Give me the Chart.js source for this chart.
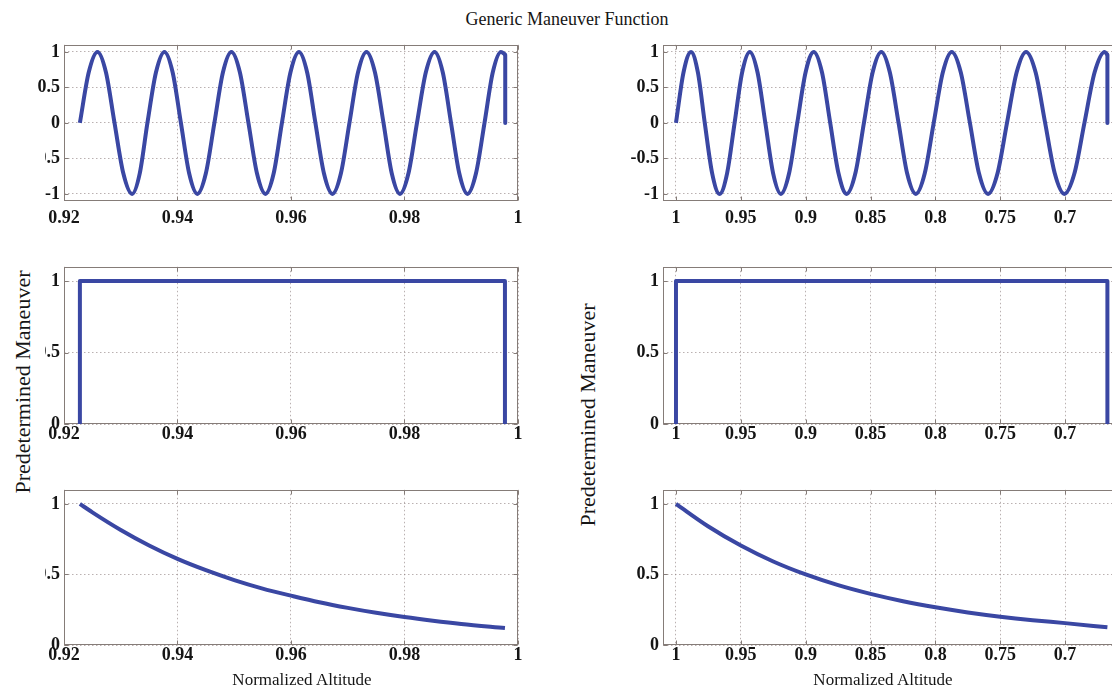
<!DOCTYPE html>
<html>
<head>
<meta charset="utf-8">
<script src="https://cdn.jsdelivr.net/npm/chart.js@4/dist/chart.umd.min.js"></script>
<style>
  html, body { margin: 0; padding: 0; background: #fff; }
  body { width: 1112px; height: 687px; position: relative; overflow: hidden;
         font-family: "Liberation Serif", "Times New Roman", serif; color: #151515; }
  canvas { position: absolute; z-index: 1; }
  .txt { position: absolute; white-space: nowrap; line-height: 1; z-index: 3; }
  .ylab { transform: translate(-50%, -50%) rotate(-90deg); }
  .xlab { transform: translateX(-50%); }
  #mask { position: absolute; left: 0; top: 100px; width: 45px; height: 490px; background: #fff; z-index: 2; }
</style>
</head>
<body>

<div class="txt xlab" style="left:567px; top:10px; font-size:18px;">Generic Maneuver Function</div>
<div id="mask"></div>
<div class="txt ylab" style="left:23px; top:382px; font-size:22px;">Predetermined Maneuver</div>
<div class="txt ylab" style="left:588px; top:415px; font-size:22px;">Predetermined Maneuver</div>
<div class="txt xlab" style="left:302px; top:671px; font-size:17px;">Normalized Altitude</div>
<div class="txt xlab" style="left:883px; top:671px; font-size:17px;">Normalized Altitude</div>

<script>
// -------------------- DATA --------------------
const leftTicksX = [0.92, 0.94, 0.96, 0.98, 1];
const rightTicksX = [1, 0.95, 0.9, 0.85, 0.8, 0.75, 0.7];
const waveTicksY = [-1, -0.5, 0, 0.5, 1];
const unitTicksY = [0, 0.5, 1];

// oscillation level, every eighth of a cycle (same shape in both columns)
const waveY = [
  0, 0.71, 1, 0.71, 0, -0.71, -1, -0.71,
  0, 0.71, 1, 0.71, 0, -0.71, -1, -0.71,
  0, 0.71, 1, 0.71, 0, -0.71, -1, -0.71,
  0, 0.71, 1, 0.71, 0, -0.71, -1, -0.71,
  0, 0.71, 1, 0.71, 0, -0.71, -1, -0.71,
  0, 0.71, 1, 0.71, 0, -0.71, -1, -0.71,
  0, 0.71, 1, 0.96
];
const waveLeftX = [
  0.9228, 0.92435, 0.9259, 0.9274, 0.9289, 0.93045, 0.9320, 0.93335,
  0.9347, 0.9362, 0.9377, 0.93915, 0.9406, 0.94205, 0.9435, 0.9450,
  0.9465, 0.9480, 0.9495, 0.9510, 0.9525, 0.9540, 0.9555, 0.95695,
  0.9584, 0.9599, 0.9614, 0.96285, 0.9643, 0.9658, 0.9673, 0.9688,
  0.9703, 0.9718, 0.9733, 0.9748, 0.9763, 0.97775, 0.9792, 0.9807,
  0.9822, 0.98375, 0.9853, 0.98675, 0.9882, 0.98965, 0.9911, 0.9926,
  0.9941, 0.99555, 0.9970, 0.99775
];
const waveRightX = [
  1.0000, 0.9942, 0.9884, 0.9831, 0.9778, 0.9721, 0.9664, 0.9606,
  0.9548, 0.9490, 0.9431, 0.9371, 0.9311, 0.9251, 0.9191, 0.9128,
  0.9065, 0.9001, 0.8938, 0.8874, 0.8811, 0.8747, 0.8684, 0.8617,
  0.8551, 0.8484, 0.8417, 0.8351, 0.8284, 0.8218, 0.8151, 0.8082,
  0.8013, 0.7943, 0.7874, 0.7804, 0.7734, 0.7664, 0.7594, 0.7521,
  0.7448, 0.7374, 0.7301, 0.7227, 0.7154, 0.7080, 0.7006, 0.6928,
  0.6851, 0.6773, 0.6695, 0.6674
];

// on/off window
const stepY = [0, 1, 1, 0];
const stepLeftX = [0.9228, 0.9228, 0.9977, 0.9977];
const stepRightX = [1, 1, 0.6674, 0.6674];

// decaying maneuver
const decayLeftX = [0.9228, 0.925, 0.93, 0.935, 0.94, 0.945, 0.95, 0.955, 0.96, 0.965, 0.97, 0.975, 0.98, 0.985, 0.99, 0.9977];
const decayLeftY = [1.00, 0.94, 0.815, 0.705, 0.61, 0.53, 0.46, 0.40, 0.35, 0.303, 0.263, 0.228, 0.198, 0.172, 0.149, 0.12];
const decayRightX = [1, 0.975, 0.95, 0.925, 0.9, 0.875, 0.85, 0.825, 0.8, 0.775, 0.75, 0.725, 0.7, 0.6674];
const decayRightY = [1, 0.84, 0.705, 0.592, 0.50, 0.424, 0.362, 0.31, 0.267, 0.231, 0.201, 0.176, 0.155, 0.125];

// -------------------- STYLE --------------------
const lineColor = '#3a47a3';
const gridColor = 'rgba(140,125,125,0.6)';
const tickFont = { family: '"Liberation Serif", "Times New Roman", serif', size: 18, weight: 'bold' };

const YW = 60, XH = 30, PT = 12, PR = 20;

const cols = [
  { left: 64, w: 454, min: 0.92, max: 1, reverse: false, ticks: leftTicksX },
  { left: 663, w: 454, min: 0.66, max: 1.01, reverse: true, ticks: rightTicksX }
];
const rows = [
  { top: 42, h: 159, min: -1.1, max: 1.1, ticks: waveTicksY, pad: 7 },
  { top: 264, h: 160, min: 0, max: 1.1, ticks: unitTicksY, pad: 0 },
  { top: 487, h: 158, min: 0, max: 1.1, ticks: unitTicksY, pad: 0 }
];

function pts(xs, ys) {
  return xs.map((x, i) => ({ x: x, y: ys[i] }));
}

function line(data, smooth) {
  return {
    data: data,
    showLine: true,
    borderColor: lineColor,
    borderWidth: 4,
    pointRadius: 0,
    borderJoinStyle: 'round',
    cubicInterpolationMode: smooth ? 'monotone' : 'default',
    tension: 0
  };
}

// axes box with small inward tick marks
const frame = {
  id: 'frame',
  beforeDatasetsDraw(chart) {
    const { ctx, chartArea: a, scales } = chart;
    const l = Math.round(a.left) + 0.5, t = Math.round(a.top) + 0.5;
    const r = Math.round(a.right) - 0.5, b = Math.round(a.bottom) - 0.5;
    ctx.save();
    ctx.strokeStyle = '#857c78';
    ctx.lineWidth = 1;
    ctx.strokeRect(l, t, r - l, b - t);
    ctx.beginPath();
    scales.x.ticks.forEach(tk => {
      const px = Math.round(scales.x.getPixelForValue(tk.value)) + 0.5;
      ctx.moveTo(px, b); ctx.lineTo(px, b - 4);
      ctx.moveTo(px, t); ctx.lineTo(px, t + 4);
    });
    scales.y.ticks.forEach(tk => {
      const py = Math.round(scales.y.getPixelForValue(tk.value)) + 0.5;
      ctx.moveTo(l, py); ctx.lineTo(l + 4, py);
      ctx.moveTo(r, py); ctx.lineTo(r - 4, py);
    });
    ctx.stroke();
    ctx.restore();
  }
};

function plot(col, row, datasets) {
  const cv = document.createElement('canvas');
  cv.width = YW + col.w + PR;
  cv.height = PT + row.h + XH;
  cv.style.left = (col.left - YW) + 'px';
  cv.style.top = (row.top - PT) + 'px';
  document.body.appendChild(cv);

  new Chart(cv, {
    type: 'scatter',
    data: { datasets: datasets },
    plugins: [frame],
    options: {
      responsive: false,
      animation: false,
      devicePixelRatio: 1,
      layout: { padding: { top: PT, right: PR, left: 0, bottom: 0 } },
      plugins: { legend: { display: false }, tooltip: { enabled: false } },
      scales: {
        x: {
          type: 'linear',
          min: col.min, max: col.max, reverse: col.reverse,
          afterBuildTicks: s => { s.ticks = col.ticks.map(v => ({ value: v })); },
          afterFit: s => { s.height = XH; },
          grid: { color: gridColor, drawTicks: false },
          border: { display: false, dash: [1.5, 2.5] },
          ticks: { font: tickFont, color: '#151515', padding: row.pad, autoSkip: false, maxRotation: 0,
                   callback: v => String(v) }
        },
        y: {
          type: 'linear',
          min: row.min, max: row.max,
          afterBuildTicks: s => { s.ticks = row.ticks.map(v => ({ value: v })); },
          afterFit: s => { s.width = YW; },
          grid: { color: gridColor, drawTicks: false },
          border: { display: false, dash: [1.5, 2.5] },
          ticks: { font: tickFont, color: '#151515', padding: 4, callback: v => String(v) }
        }
      }
    }
  });
}

// -------------------- CHARTS --------------------
const L = cols[0], R = cols[1];

// sine maneuver, with its cut-off at the end of the window
const wl = waveLeftX.length - 1, wr = waveRightX.length - 1;
plot(L, rows[0], [
  line(pts(waveLeftX, waveY), true),
  line([{ x: waveLeftX[wl], y: waveY[wl] }, { x: waveLeftX[wl], y: 0 }], false)
]);
plot(R, rows[0], [
  line(pts(waveRightX, waveY), true),
  line([{ x: waveRightX[wr], y: waveY[wr] }, { x: waveRightX[wr], y: 0 }], false)
]);

// constant maneuver
plot(L, rows[1], [line(pts(stepLeftX, stepY), false)]);
plot(R, rows[1], [line(pts(stepRightX, stepY), false)]);

// decaying maneuver
plot(L, rows[2], [line(pts(decayLeftX, decayLeftY), true)]);
plot(R, rows[2], [line(pts(decayRightX, decayRightY), true)]);
</script>
</body>
</html>
